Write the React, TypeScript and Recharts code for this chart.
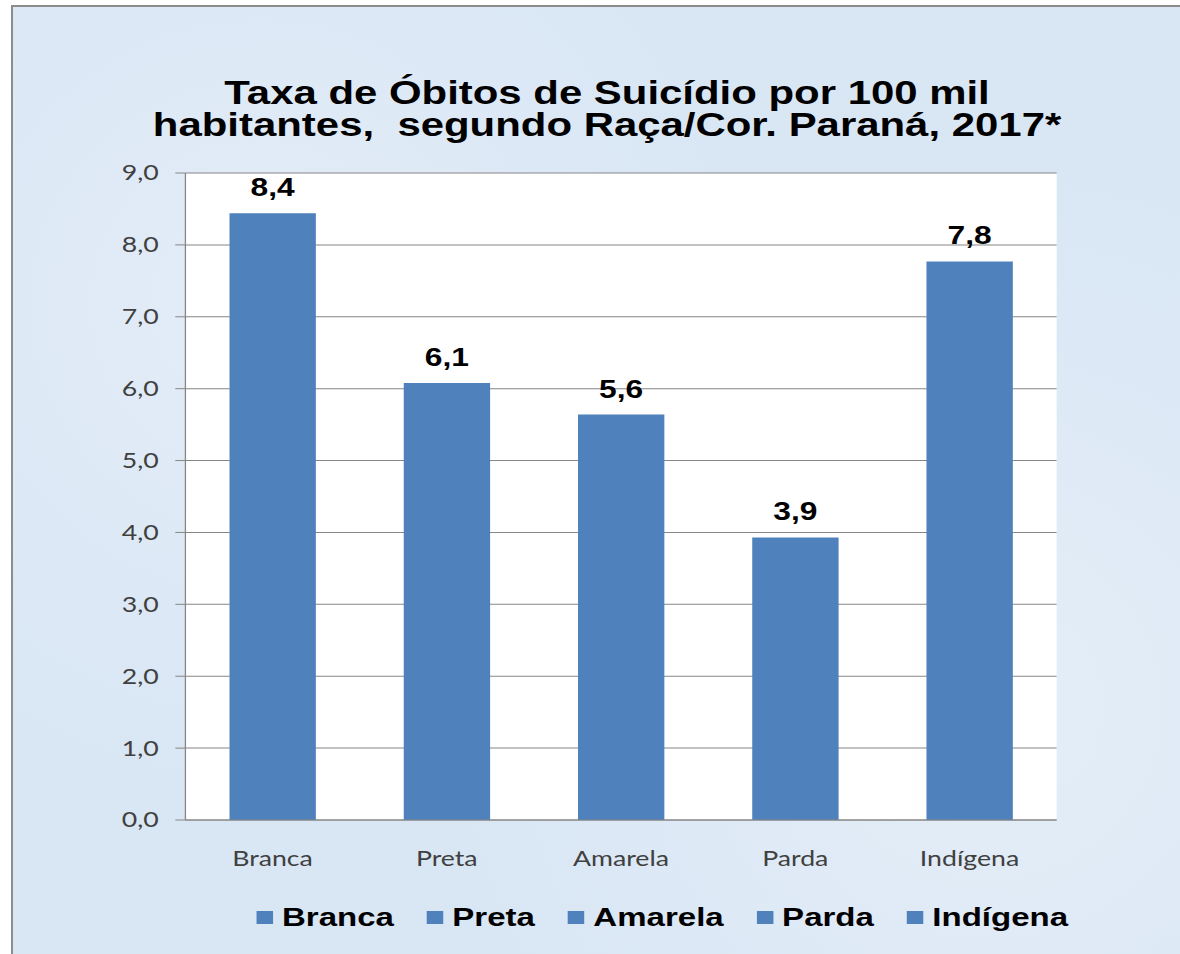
import { BarChart, Bar, XAxis, YAxis, CartesianGrid, Legend, LabelList } from 'recharts';

// the reference picture is stretched sideways, so the chart is drawn narrower and scaled in x
const STRETCH = 1.27;

const CATEGORIES = ['Branca', 'Preta', 'Amarela', 'Parda', 'Indígena'];
const TAXA = [8.44, 6.08, 5.64, 3.93, 7.77];
const Y_TICKS = [0, 1, 2, 3, 4, 5, 6, 7, 8, 9];
const TITLE_LINES = [
  'Taxa de Óbitos de Suicídio por 100 mil',
  'habitantes,  segundo Raça/Cor. Paraná, 2017*',
];

const data = CATEGORIES.map((name, i) => ({ name, taxa: TAXA[i] }));
// category boundaries for the x axis tick marks
const EDGE_TICKS = [...CATEGORIES.map((_, i) => i), CATEGORIES.length];
const EDGE_DOMAIN = [0, CATEGORIES.length];

// axis 0 sits on the plot edge (line + boundary ticks), axis 1 holds the category names below it
const EDGE_AXIS = 0;
const CAT_AXIS = 1;

const BAR_COLOR = '#4F81BD';
const AXIS_COLOR = '#868686';
const ARIAL = '"Liberation Sans", Arial, sans-serif';
const LABEL_FONT = 'Lato, "Open Sans", sans-serif';
const AXIS_LINE = { stroke: AXIS_COLOR };
const TICK_STYLE = { fill: '#404040', fontSize: 21, fontFamily: LABEL_FONT };

const fmt = (v: number) => v.toFixed(1).replace('.', ',');

function LegendRow() {
  return (
    <div style={{ display: 'flex', alignItems: 'center', height: 30, paddingLeft: 202 }}>
      {CATEGORIES.map(c => (
        <div key={c} style={{ display: 'flex', alignItems: 'center', marginRight: 26 }}>
          <span style={{ width: 13, height: 13, background: BAR_COLOR, marginRight: 7, display: 'inline-block' }} />
          <span style={{ fontFamily: ARIAL, fontWeight: 'bold', fontSize: 26, color: '#000' }}>{c}</span>
        </div>
      ))}
    </div>
  );
}

const legendContent = () => <LegendRow />;

export default function App() {
  return (
    <div style={{ position: 'absolute', left: 0, top: 0, width: 1180, height: 954, overflow: 'hidden', background: '#fff' }}>
      <div
        style={{
          position: 'absolute', left: 11, top: 5, width: 1220, height: 1000,
          border: '2px solid #8c8c8c',
          background: 'radial-gradient(circle at 20% 30%, #e3edf8 0%, rgba(227,237,248,0) 40%), radial-gradient(circle at 80% 70%, #e4eef8 0%, rgba(228,238,248,0) 45%), #d9e6f4',
        }}
      />
      <div style={{ position: 'absolute', left: 0, top: 0, width: 930, height: 954, transform: `scaleX(${STRETCH})`, transformOrigin: '0 0' }}>
        <div
          style={{
            position: 'absolute', left: 0, top: 77, width: 956, textAlign: 'center',
            fontFamily: ARIAL, fontWeight: 'bold', fontSize: 33, lineHeight: '32px',
            whiteSpace: 'pre', color: '#000',
          }}
        >
          {TITLE_LINES.join('\n')}
        </div>
        <BarChart width={930} height={954} data={data} margin={{ top: 173, right: 98, left: 86, bottom: 22 }} barCategoryGap="25.3%">
          <CartesianGrid xAxisId={CAT_AXIS} vertical={false} stroke={AXIS_COLOR} fill="#fff" fillOpacity={1} />
          <XAxis
            xAxisId={EDGE_AXIS} type="number" domain={EDGE_DOMAIN} ticks={EDGE_TICKS} allowDataOverflow
            height={1} tick={false} tickSize={8} axisLine={AXIS_LINE} tickLine={AXIS_LINE}
          />
          <XAxis
            xAxisId={CAT_AXIS} dataKey="name" height={81} axisLine={false} tickLine={false} tickSize={0} tickMargin={30}
            interval={0} tick={TICK_STYLE}
          />
          <YAxis
            domain={[0, 9]} ticks={Y_TICKS} interval={0} tickFormatter={fmt} width={60}
            tickSize={8} tickMargin={13} axisLine={AXIS_LINE} tickLine={AXIS_LINE}
            tick={TICK_STYLE}
          />
          <Legend verticalAlign="bottom" wrapperStyle={{ left: 0, width: 930 }} content={legendContent} />
          <Bar xAxisId={CAT_AXIS} dataKey="taxa" fill={BAR_COLOR} isAnimationActive={false}>
            <LabelList
              dataKey="taxa" position="top" offset={17} formatter={(v: any) => fmt(Number(v))}
              fill="#000" fontSize={25} fontWeight="bold" fontFamily={ARIAL}
            />
          </Bar>
        </BarChart>
      </div>
    </div>
  );
}
